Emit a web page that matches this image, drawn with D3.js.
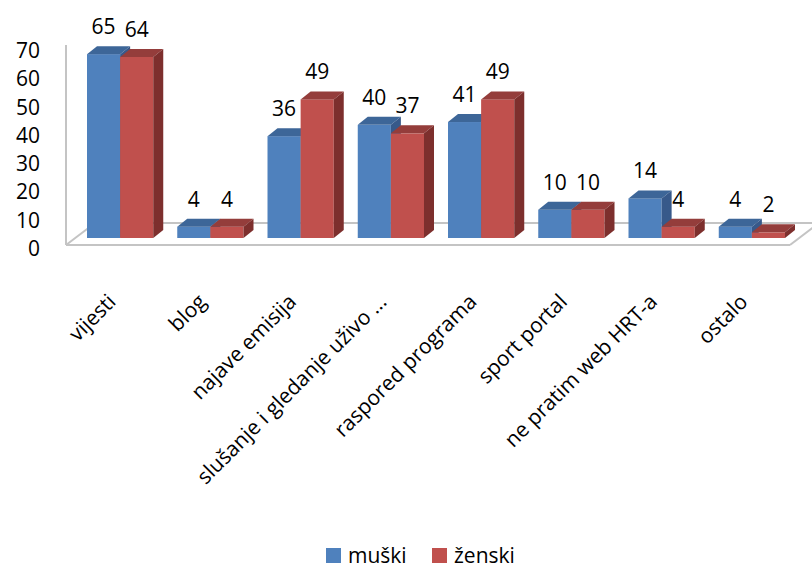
<!DOCTYPE html>
<html>
<head>
<meta charset="utf-8">
<script src="https://cdn.jsdelivr.net/npm/d3@7"></script>
<style>
  html, body { margin: 0; padding: 0; background: #fff; }
  svg { display: block; }
  text { font-family: "Open Sans", sans-serif; fill: #000; }
</style>
</head>
<body>
<svg id="chart" width="812" height="568"></svg>
<script>
const categories = ["vijesti", "blog", "najave emisija", "slušanje i gledanje uživo ...", "raspored programa", "sport portal", "ne pratim web HRT-a", "ostalo"];
const seriesNames = ["muški", "ženski"];
const muski = [65, 4, 36, 40, 41, 10, 14, 4];
const zenski = [64, 4, 49, 37, 49, 10, 4, 2];
const yTicks = [0, 10, 20, 30, 40, 50, 60, 70];

const colors = {
  "muški": { front: "#4F81BD", top: "#3D6698", side: "#37598A" },
  "ženski": { front: "#C0504D", top: "#943D3B", side: "#7D2F2D" }
};

const svg = d3.select("#chart");
const depthX = 10, depthY = -8;

const x = d3.scaleBand().domain(categories).range([75, 797]).paddingInner(0.266).paddingOuter(0.133);
const xs = d3.scaleBand().domain(seriesNames).range([0, x.bandwidth()]);
const y = d3.scaleLinear().domain([0, 70]).range([238, 40]);

// floor / wall lines
const g0 = svg.append("g").attr("fill", "none").attr("stroke", "#C4C4C4").attr("stroke-width", 2);
g0.append("line").attr("x1", 66).attr("y1", 45).attr("x2", 66).attr("y2", 245);
g0.append("line").attr("x1", 66).attr("y1", 245).attr("x2", 790).attr("y2", 245);
g0.append("line").attr("x1", 66).attr("y1", 245).attr("x2", 95).attr("y2", 223);
g0.append("line").attr("x1", 95).attr("y1", 223).attr("x2", 812).attr("y2", 223);
g0.append("line").attr("x1", 790).attr("y1", 245).attr("x2", 819).attr("y2", 223);

// y tick labels
svg.append("g").selectAll("text").data(yTicks).join("text")
  .attr("x", 40).attr("y", d => y(d) + 10)
  .attr("text-anchor", "end").attr("dominant-baseline", "central")
  .attr("font-size", 21).text(d => d);

// bars
const series = [{ name: "muški", values: muski }, { name: "ženski", values: zenski }];
const bars = svg.append("g");
categories.forEach((c, i) => {
  series.forEach(s => {
    const v = s.values[i];
    const x0 = x(c) + xs(s.name), w = xs.bandwidth();
    const y0 = y(0), y1 = y(v);
    const col = colors[s.name];
    const g = bars.append("g");
    g.append("rect").attr("x", x0).attr("y", y1).attr("width", w).attr("height", y0 - y1).attr("fill", col.front);
    g.append("path").attr("d", `M${x0},${y1}L${x0 + depthX},${y1 + depthY}L${x0 + w + depthX},${y1 + depthY}L${x0 + w},${y1}Z`).attr("fill", col.top);
    g.append("path").attr("d", `M${x0 + w},${y1}L${x0 + w + depthX},${y1 + depthY}L${x0 + w + depthX},${y0 + depthY}L${x0 + w},${y0}Z`).attr("fill", col.side);
  });
});

// data labels
const labels = svg.append("g");
categories.forEach((c, i) => {
  series.forEach(s => {
    const v = s.values[i];
    labels.append("text")
      .attr("x", x(c) + xs(s.name) + xs.bandwidth() / 2)
      .attr("y", y(v) - 20)
      .attr("text-anchor", "middle").attr("font-size", 21).text(v);
  });
});

// category labels
svg.append("g").selectAll("text").data(categories).join("text")
  .attr("transform", d => `translate(${x(d) + x.bandwidth() / 2 - 3},${303}) rotate(-45)`)
  .attr("text-anchor", "end").attr("font-size", 21).text(d => d);

// legend
const legend = svg.append("g");
const legItems = [{ name: "muški", x: 326, tx: 348 }, { name: "ženski", x: 432, tx: 454 }];
legItems.forEach(li => {
  legend.append("rect").attr("x", li.x).attr("y", 548).attr("width", 15).attr("height", 15).attr("fill", colors[li.name].front);
  legend.append("text").attr("x", li.tx).attr("y", 563).attr("font-size", 21).text(li.name);
});
</script>
</body>
</html>
